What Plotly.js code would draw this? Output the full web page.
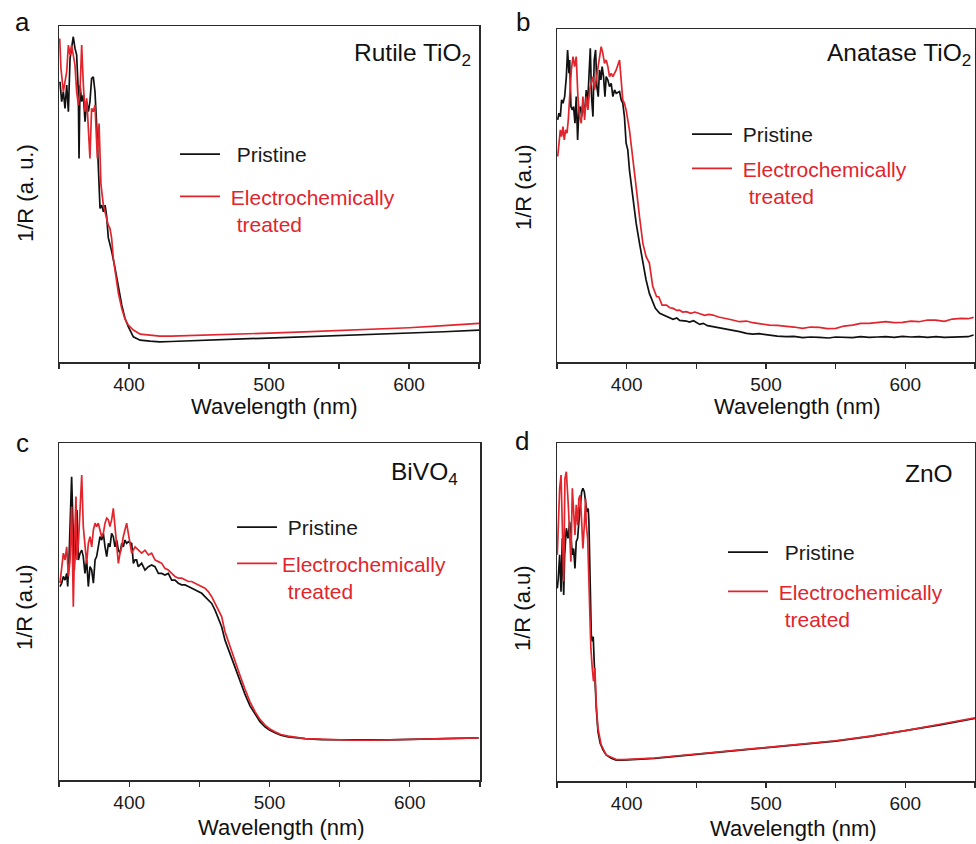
<!DOCTYPE html>
<html>
<head>
<meta charset="utf-8">
<script src="https://cdn.plot.ly/plotly-3.0.1.min.js"></script>
<style>html,body{margin:0;padding:0;background:#fff}#chart{width:976px;height:844px}</style>
</head>
<body>
<div id="chart"></div>
<script>
// ---- tick labels ----
const tickVals = [400, 500, 600];
const tickText = ['400', '500', '600'];

// ---- (a) Rutile TiO2 ----
const wlRutilePristine = [350.7,351.9,353.1,354.3,355.5,356.7,357.9,359.0,360.2,361.4,362.6,363.8,364.3,365.0,366.2,367.4,368.6,369.8,371.0,372.1,373.3,374.5,375.7,376.9,378.1,379.3,380.5,381.7,382.9,384.0,385.2,387.6,390.0,392.4,394.8,397.1,399.5,403.1,407.9,415,422,430,450,475,500,525,550,575,600,625,650];
const yRutilePristine = [83.4,77.5,80.5,75.5,82.4,74.5,90.4,94.3,96.8,93.4,91.4,80.5,60.6,82.4,77.5,79.5,71.5,77.5,74.5,77.5,84.4,84.9,80.5,70.5,58.6,45.7,46.7,44.7,46.7,43.5,37.0,33.0,28.0,22.0,17.0,13.0,10.5,7.5,6.5,6.2,6.0,6.1,6.4,6.7,7.0,7.35,7.7,8.1,8.5,9.0,9.5];
const wlRutileTreated = [350.5,351.4,353.1,355.5,356.7,357.9,359.0,361.4,362.6,363.8,365.0,366.2,367.4,368.6,369.8,371.0,372.1,373.3,374.5,375.7,377.4,378.6,380.0,381.7,382.9,384.0,385.2,386.4,387.6,388.8,390.0,392.4,394.8,397.1,399.5,403.1,408,415,422,430,450,475,500,525,550,575,600,625,650];
const yRutileTreated = [96.3,87.4,80.5,86.4,94.3,91.4,94.3,88.4,80.5,76.5,80.5,94.3,82.4,74.5,78.5,70.5,60.6,75.5,74.5,76.5,60.6,71.0,52.7,46.7,44.7,42.7,40.7,39.8,36.8,30.8,27.0,20.5,16.0,12.8,11.0,9.5,8.3,8.0,7.7,7.7,7.9,8.25,8.6,8.95,9.3,9.7,10.2,10.8,11.5];

// ---- (b) Anatase TiO2 ----
const wlAnatasePristine = [350.5,351.4,352.4,353.3,354.3,355.5,356.7,357.6,358.6,359.1,360.0,361.0,361.9,362.9,363.8,364.8,365.7,366.7,367.7,368.6,369.8,371.0,371.9,372.9,373.9,374.8,375.8,376.7,377.7,378.6,379.6,380.5,381.5,382.4,383.4,384.4,385.3,386.5,387.7,388.9,390.1,391.3,392.5,394.9,396.1,397.2,398.4,399.6,400.8,402.0,404.4,406.8,409.2,411.6,413.9,416.3,418.7,420.6,423.7,426,428.5,431,433.3,436,438,442.8,445,448,452.4,455,458,461.9,466,471.5,476,481,486,490.5,495,502.5,508,514.4,520,526.3,532,538.3,545,550,556,562.1,568,574,580,586,592,598,604,609.8,616,622,628,633.7,640,645,649];
const yAnatasePristine = [72.7,74.7,73.7,78.7,77.7,79.7,85.7,93.7,86.7,90.7,76.7,75.7,76.7,71.7,79.7,66.7,75.7,76.7,73.7,77.7,74.7,81.7,76.7,85.7,94.2,79.7,73.7,90.7,93.7,82.7,79.7,87.7,84.7,88.7,85.7,79.7,85.7,84.7,82.7,83.7,79.7,81.7,80.7,81.2,78.7,77.7,73.7,65.7,63.7,57.7,49.7,41.7,35.7,29.7,24.7,20.6,18.1,16.1,14.6,14.2,13.6,13.3,12.8,13.2,12.5,12.3,12.0,12.4,11.3,11.6,10.9,10.6,10.3,9.8,9.5,9.1,8.6,8.4,8.5,8.0,7.8,7.6,7.7,7.3,7.5,7.4,7.2,7.5,7.3,7.3,7.6,7.4,7.5,7.6,7.4,7.7,7.5,7.6,7.4,7.6,7.4,7.5,7.7,7.6,8.1];
const wlAnataseTreated = [350.5,351.4,352.4,353.3,354.3,355.2,356.2,357.2,358.1,359.1,360.3,361.5,362.6,363.8,365.0,366.2,367.4,368.6,369.8,371.0,372.2,373.4,374.6,375.8,377.0,378.2,379.4,380.5,381.7,382.9,384.1,385.3,386.5,387.7,388.9,390.1,392.5,394.9,396.1,397.2,398.4,399.6,402.0,404.4,406.8,409.2,411.6,413.9,416.3,418.7,420.6,421.5,423.0,425.4,428.5,431,433.3,436,438,440,442.8,446,449,452.4,456,459,461.9,466,471.5,476,481,486,490.5,496,502.5,508,514.4,520,526.3,532,538.3,544,550.2,556,562.1,568,574,580,586,592,597.9,604,609.8,616,621.8,628,633.7,640,645,649];
const yAnataseTreated = [61.7,65.7,69.7,67.7,70.7,66.7,69.7,68.7,72.7,79.7,87.7,91.7,88.7,91.7,79.7,73.7,71.7,79.7,72.7,79.7,75.7,81.7,83.7,85.7,81.7,84.7,87.7,90.7,94.7,92.7,89.7,90.7,88.7,85.7,86.7,85.7,87.7,90.7,84.7,78.7,77.7,75.7,69.7,61.7,52.6,43.7,35.7,31.7,29.7,22.7,20.6,19.6,19.6,17.1,17.1,16.3,16.1,15.5,15.6,15.0,15.1,14.6,15.0,14.6,14.0,14.3,14.1,13.5,13.1,12.6,12.1,12.3,11.8,11.4,11.1,11.0,10.8,10.5,10.1,10.5,10.4,10.0,10.1,10.8,11.1,11.6,11.6,11.9,12.1,11.8,11.9,12.3,12.1,12.6,12.6,12.2,12.9,13.1,13.0,13.4];

// ---- (c) BiVO4 ----
const wlBiVO4Pristine = [350.7,351.9,353.1,354.3,355.5,356.2,357.1,358.1,359.0,360.0,360.9,361.9,362.8,363.8,365.0,366.2,367.3,368.5,369.7,370.9,372.1,373.3,374.5,375.7,376.8,378.0,379.2,380.4,381.6,382.8,384.0,385.2,386.3,387.5,388.7,389.9,391.1,392.3,393.5,394.7,395.8,397.0,398.2,399.4,401.8,403.0,404.2,405.3,406.5,408.9,411.3,413.7,416.0,418.4,420.8,423.2,425.5,427.9,430.3,432.7,435.0,437.4,439.8,442.2,444.5,446.9,449.3,451.7,454.0,456.4,458.8,461.2,463.5,465.9,468.3,471.9,475.4,479.0,482.5,486.1,489.7,493.2,496.8,500,503.9,508,513.4,519,525.3,537,549,560,572,585,597,610,620,635,649];
const yBiVO4Pristine = [57.4,58.4,60.4,59.3,61.3,57.4,65.3,79.1,90.0,75.2,62.3,72.2,80.1,65.3,67.3,68.2,66.3,61.3,65.3,57.4,63.3,62.3,58.4,65.3,66.3,69.2,72.2,71.2,73.2,69.2,66.3,70.2,69.2,73.2,72.2,69.2,71.2,68.2,67.3,70.2,69.2,71.2,70.2,70.7,70.2,64.3,65.3,65.3,63.3,64.3,62.3,63.3,63.8,63.3,61.3,61.3,60.8,61.3,59.3,59.3,58.4,57.9,57.9,57.4,56.9,56.4,55.9,55.4,54.4,53.4,52.4,50.4,48.0,45.5,41.5,37.5,33.2,29.5,25.5,22.0,19.5,17.3,15.8,14.8,14.0,13.3,12.8,12.5,12.3,12.0,11.9,11.8,11.9,11.9,12.0,12.1,12.2,12.4,12.5];
const wlBiVO4Treated = [350.7,351.9,353.1,354.3,355.5,356.7,357.9,359.0,360.2,361.4,362.1,362.8,363.8,365.0,366.2,367.3,368.5,369.7,370.9,372.1,373.3,374.5,375.7,376.8,378.0,379.2,380.4,381.6,382.8,384.0,385.2,386.3,387.5,388.7,389.9,391.1,392.3,393.5,394.7,395.8,397.0,398.2,399.4,400.6,401.8,404.2,406.5,408.9,411.3,413.7,416.0,418.4,420.8,423.2,425.5,427.9,430.3,432.7,435.0,437.4,439.8,442.2,444.5,446.9,449.3,451.7,454.0,456.4,458.8,461.2,463.5,465.9,468.3,471.9,475.4,479.0,482.5,486.1,489.7,493.2,496.8,500,503.9,508,513.4,519,525.3,537,549,560,572,585,597,610,620,635,649];
const yBiVO4Treated = [58.4,62.3,67.3,65.3,69.2,60.4,65.3,81.1,51.4,75.2,84.1,65.3,70.2,80.1,90.5,75.2,69.2,64.3,70.2,72.2,69.2,74.2,76.2,75.2,76.2,74.2,72.2,73.2,76.2,77.7,77.2,75.2,77.2,80.6,75.2,70.2,64.3,67.3,69.2,72.2,74.2,76.2,73.2,70.2,67.3,69.2,68.2,67.3,68.2,66.8,67.3,65.3,64.8,64.3,62.8,62.3,61.3,60.4,59.9,59.9,59.4,58.9,58.9,58.4,57.9,57.4,56.9,55.9,54.4,52.4,50.4,48.5,44.0,39.5,35.0,31.0,27.0,23.2,20.3,18.0,16.3,15.2,14.3,13.5,13.0,12.6,12.3,12.1,11.9,11.8,11.8,11.9,12.0,12.1,12.2,12.3,12.5];

// ---- (d) ZnO ----
const wlZnOPristine = [350.2,350.9,351.9,352.9,353.8,354.8,355.5,356.7,357.9,359.1,360.3,361.0,361.9,362.9,363.8,364.8,365.7,366.7,367.7,368.6,369.6,370.5,371.5,372.4,372.9,373.4,373.9,374.6,375.3,376.0,376.7,377.4,378.2,379.4,381.0,383.0,385.3,388.9,392.5,397.5,405,420,435,450,475,500,525,550,575,600,625,650];
const yZnOPristine = [57.0,59.9,66.9,56.0,71.8,55.0,66.9,74.8,71.8,76.7,70.8,66.9,68.8,62.9,70.8,71.8,76.7,82.6,85.6,86.6,85.6,82.6,79.6,80.6,76.7,66.9,52.1,43.2,41.3,42.7,35.3,27.4,21.5,14.6,11.2,9.2,7.7,6.7,6.2,6.2,6.3,6.7,7.3,7.9,8.8,9.7,10.7,11.8,13.2,14.8,16.6,18.5];
const wlZnOTreated = [350.2,350.9,351.9,352.9,353.8,354.8,355.7,356.7,358.1,359.1,360.0,361.0,361.9,362.9,363.8,364.8,365.7,366.7,367.7,368.6,369.6,370.5,371.0,372.0,372.7,373.4,374.3,375.3,376.2,377.2,378.2,379.4,381.7,385.3,390.1,393,397.5,405,420,435,450,475,500,525,550,575,600,625,650];
const yZnOTreated = [66.9,76.7,86.6,90.5,76.7,59.0,89.5,91.5,81.7,71.8,64.9,86.6,78.7,72.8,81.7,75.7,83.6,84.6,76.7,68.8,75.7,83.6,75.7,71.8,61.9,50.1,39.3,33.4,29.5,33.4,22.5,15.6,10.7,7.7,6.7,6.3,6.3,6.4,6.8,7.4,8.0,8.9,9.8,10.8,11.9,13.3,14.9,16.8,18.7];

// ---- labels ----
const panelLetters = ['a', 'b', 'c', 'd'];
const materialNames = ['Rutile TiO<sub>2</sub>', 'Anatase TiO<sub>2</sub>', 'BiVO<sub>4</sub>', 'ZnO'];
const yTitles = ['1/R (a. u.)', '1/R (a.u)', '1/R (a.u)', '1/R (a.u)'];
const xTitle = 'Wavelength (nm)';
const seriesNames = ['Pristine', 'Electrochemically', 'treated'];

const RED = '#e2252c';
const BLACK = '#111111';
const FONT = 'Liberation Sans, Arial, Helvetica, sans-serif';
const SP = '\u00a0';

const W = 976, H = 844;
const px = v => v / W;
const py = v => 1 - v / H;

const panels = [
  {pw: wlRutilePristine, p: yRutilePristine, tw: wlRutileTreated, t: yRutileTreated},
  {pw: wlAnatasePristine, p: yAnatasePristine, tw: wlAnataseTreated, t: yAnataseTreated},
  {pw: wlBiVO4Pristine, p: yBiVO4Pristine, tw: wlBiVO4Treated, t: yBiVO4Treated},
  {pw: wlZnOPristine, p: yZnOPristine, tw: wlZnOTreated, t: yZnOTreated}
];
const legendIds = ['legend', 'legend2', 'legend3', 'legend4'];
// leading spaces of legend text in each panel: [Pristine, Electrochemically, treated]
const legendIndent = [[2, 1, 2], [1, 1, 2], [1, 0, 1], [2, 1, 2]];

const data = [];
panels.forEach((pn, i) => {
  const sfx = i === 0 ? '' : String(i + 1);
  const ind = legendIndent[i];
  const blackName = SP.repeat(ind[0]) + seriesNames[0];
  const redName = '<span style="color:' + RED + '">' + SP.repeat(ind[1]) + seriesNames[1] +
    '</span><br><span style="color:' + RED + '">' + SP.repeat(ind[2]) + seriesNames[2] + '</span>';
  data.push({x: pn.pw, y: pn.p, type: 'scatter', mode: 'lines', name: blackName,
    line: {color: BLACK, width: 1.7}, xaxis: 'x' + sfx, yaxis: 'y' + sfx,
    legend: legendIds[i], legendgroup: 'p' + i, legendrank: 1});
  data.push({x: pn.tw, y: pn.t, type: 'scatter', mode: 'lines', name: redName,
    line: {color: RED, width: 1.7}, xaxis: 'x' + sfx, yaxis: 'y' + sfx,
    legend: legendIds[i], legendgroup: 't' + i, legendrank: 2});
});

const xDomains = [[59, 479], [557, 975], [59, 480], [557, 975]];
const yDomains = [[26, 362], [29, 362], [443, 780], [443, 781]];

const layout = {
  width: W, height: H,
  margin: {l: 0, r: 0, t: 0, b: 0},
  paper_bgcolor: '#fff', plot_bgcolor: '#fff',
  font: {family: FONT, color: '#1a1a1a'},
  showlegend: true,
  annotations: []
};

for (let i = 0; i < 4; i++) {
  const sfx = i === 0 ? '' : String(i + 1);
  layout['xaxis' + sfx] = {
    domain: [px(xDomains[i][0]), px(xDomains[i][1])],
    anchor: 'y' + sfx, range: [350, 650], fixedrange: true,
    showline: true, linecolor: '#2a2a2a', linewidth: 1.5, mirror: true,
    ticks: 'outside', ticklen: 5, tickwidth: 1.3, tickcolor: '#2a2a2a',
    tickvals: tickVals, ticktext: tickText,
    minor: {ticks: 'outside', ticklen: 5, tickwidth: 1.3, tickcolor: '#2a2a2a', tick0: 350, dtick: 50, showgrid: false},
    tickfont: {size: 19, color: '#1a1a1a', family: FONT},
    showgrid: false, zeroline: false
  };
  layout['yaxis' + sfx] = {
    domain: [1 - yDomains[i][1] / H, 1 - yDomains[i][0] / H],
    anchor: 'x' + sfx, range: [0, 100], fixedrange: true,
    showline: true, linecolor: '#2a2a2a', linewidth: 1.5, mirror: true,
    ticks: '', showticklabels: false, showgrid: false, zeroline: false
  };
}

// legends: [left, top, group gap]
const legendPos = [[175, 134, 12], [687, 114, 4], [232, 507, 6], [723, 532, 9]];
legendIds.forEach((id, i) => {
  layout[id] = {
    x: px(legendPos[i][0]), y: py(legendPos[i][1]), xanchor: 'left', yanchor: 'top',
    xref: 'paper', yref: 'paper',
    bgcolor: 'rgba(0,0,0,0)', borderwidth: 0,
    font: {size: 21, family: FONT, color: '#1a1a1a'},
    valign: 'top', tracegroupgap: legendPos[i][2], itemwidth: 40,
    traceorder: 'grouped'
  };
});

// panel letters
const letterPos = [[22, 22], [523, 22], [22, 443], [522, 441]];
panelLetters.forEach((t, i) => layout.annotations.push({
  text: t, x: px(letterPos[i][0]), y: py(letterPos[i][1]), xref: 'paper', yref: 'paper',
  showarrow: false, xanchor: 'center', yanchor: 'middle', font: {size: 26, family: FONT, color: '#111'}
}));
// material labels
const matPos = [[473, 55], [973, 55], [460, 473], [955, 473]];
materialNames.forEach((t, i) => layout.annotations.push({
  text: t, x: px(matPos[i][0]), y: py(matPos[i][1]), xref: 'paper', yref: 'paper',
  showarrow: false, xanchor: 'right', yanchor: 'middle', font: {size: 24.5, family: FONT, color: '#111'}
}));
// x titles
const xtPos = [[274, 406], [797, 406], [281, 827], [793, 828]];
xtPos.forEach((p, i) => layout.annotations.push({
  text: xTitle, x: px(p[0]), y: py(p[1]), xref: 'paper', yref: 'paper',
  showarrow: false, xanchor: 'center', yanchor: 'middle', font: {size: 22, family: FONT, color: '#111'}
}));
// y titles
const ytPos = [[26, 193], [523, 187], [24, 607], [522, 608]];
ytPos.forEach((p, i) => layout.annotations.push({
  text: yTitles[i], x: px(p[0]), y: py(p[1]), xref: 'paper', yref: 'paper', textangle: -90,
  showarrow: false, xanchor: 'center', yanchor: 'middle', font: {size: 22, family: FONT, color: '#111'}
}));

Plotly.newPlot('chart', data, layout, {staticPlot: true, displayModeBar: false});
</script>
</body>
</html>
